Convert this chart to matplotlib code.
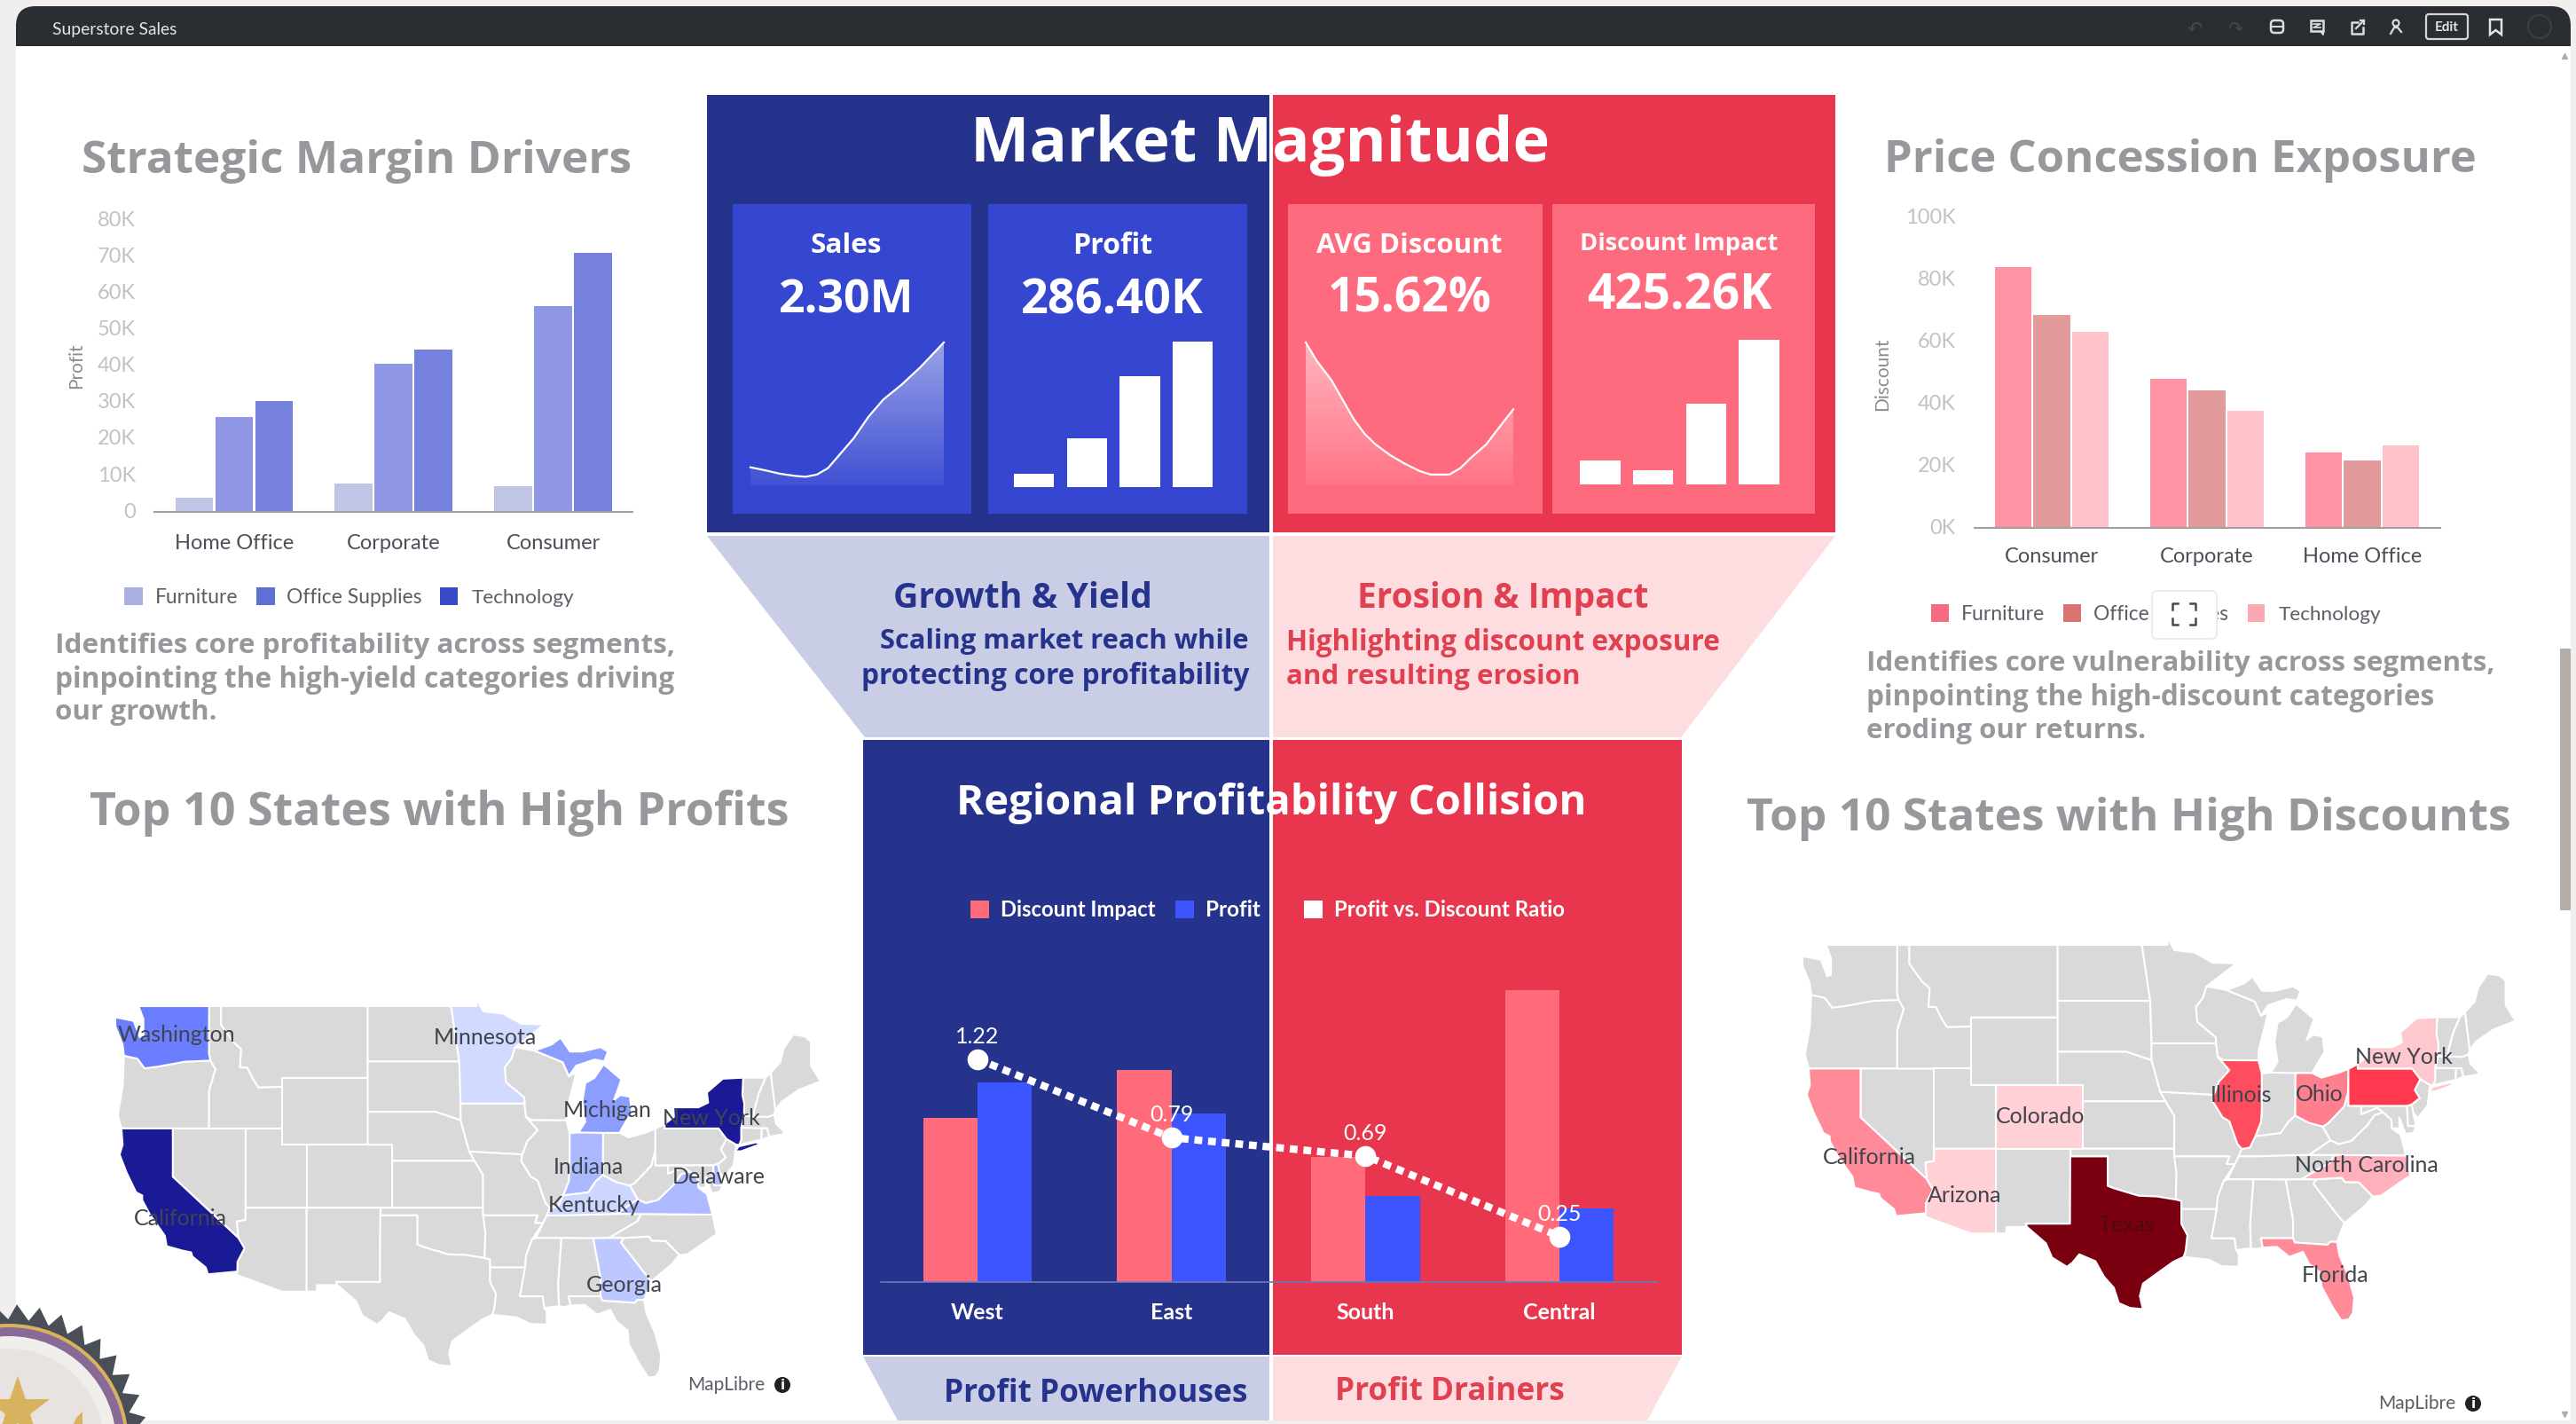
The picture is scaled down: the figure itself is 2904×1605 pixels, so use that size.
import numpy as np
import matplotlib
matplotlib.use('Agg')
import matplotlib.pyplot as plt
from matplotlib.patches import Rectangle, Polygon, Circle, FancyBboxPatch, PathPatch
from matplotlib.path import Path
from matplotlib.transforms import ScaledTranslation

W, H = 2904, 1606
GREY_TXT = '#97989c'
BLUE_DK = '#26338c'
RED_DK = '#e8364e'
HEAD = 'Open Sans'
BODY = 'Lato'

# ---- data ----
seg_left = ['Home Office', 'Corporate', 'Consumer']
furn_profit = [3.9, 7.7, 7.0]
office_profit = [26.0, 40.5, 56.5]
tech_profit = [30.5, 44.5, 71.0]

seg_right = ['Consumer', 'Corporate', 'Home Office']
furn_disc = [84.0, 48.2, 24.3]
office_disc = [68.7, 44.3, 21.7]
tech_disc = [63.1, 37.7, 26.7]

regions = ['West', 'East', 'South', 'Central']
disc_impact = [88.8, 115.0, 68.0, 158.0]
region_profit = [108.0, 91.5, 46.7, 39.7]
ratio = [1.22, 0.79, 0.69, 0.25]

sales_x = [80, 100, 120, 140, 155, 170, 185, 200, 220, 240, 260, 285, 310, 342]
sales_y = [42, 35, 27, 22, 20, 25, 40, 70, 110, 160, 200, 235, 275, 333]
avg_x = [835, 850, 870, 885, 900, 915, 930, 950, 970, 990, 1005, 1030, 1045, 1060, 1080, 1100, 1117]
avg_y = [333, 290, 245, 200, 155, 120, 95, 70, 50, 33, 25, 25, 40, 65, 95, 140, 177]
profit_mini = [30, 114, 258, 338]
impact_mini = [56, 32, 187, 336]

# simplified state outlines, lon / lat
states = {
    'WA': [(-124.7,48.4),(-123.2,48.2),(-122.7,47.3),(-122.4,47.4),(-122.4,48.3),(-122.8,49),(-117.03,49),(-117.04,46.4),(-116.92,45.99),(-119,45.93),(-121.2,45.65),(-122.3,45.55),(-122.9,46.1),(-124,46.27),(-124.1,46.9),(-124.7,47.9)],
    'OR': [(-124,46.27),(-122.9,46.1),(-122.3,45.55),(-121.2,45.65),(-119,45.93),(-116.92,45.99),(-116.5,45.5),(-117.03,44.25),(-117.03,42),(-124.2,42),(-124.5,42.8),(-124.1,44.5)],
    'CA': [(-124.2,42),(-120,42),(-120,39),(-114.63,35),(-114.13,34.3),(-114.7,33.4),(-114.72,32.72),(-117.12,32.53),(-117.3,33),(-118.4,33.75),(-118.5,34.03),(-119.2,34.15),(-120.5,34.45),(-120.65,35.15),(-121.9,36.6),(-122.5,37.5),(-122.5,37.8),(-123,38),(-123.8,39.3),(-124.35,40.4),(-124.1,41)],
    'NV': [(-120,42),(-114.04,42),(-114.05,36.2),(-114.75,36.1),(-114.63,35),(-120,39)],
    'ID': [(-117.03,49),(-116.05,49),(-116.05,48),(-115,47),(-114.4,46.65),(-114.5,45.6),(-113.9,45.6),(-113.45,44.95),(-113,44.45),(-111.05,44.48),(-111.05,42),(-117.03,42),(-117.03,44.25),(-116.5,45.5),(-116.92,45.99),(-117.04,46.4)],
    'MT': [(-116.05,49),(-104.05,49),(-104.05,45),(-111.05,45),(-111.05,44.48),(-113,44.45),(-113.45,44.95),(-113.9,45.6),(-114.5,45.6),(-114.4,46.65),(-115,47),(-116.05,48)],
    'WY': [(-111.05,45),(-104.05,45),(-104.05,41),(-111.05,41)],
    'UT': [(-114.04,42),(-111.05,42),(-111.05,41),(-109.05,41),(-109.05,37),(-114.05,37)],
    'CO': [(-109.05,41),(-102.05,41),(-102.05,37),(-109.05,37)],
    'AZ': [(-114.05,37),(-109.05,37),(-109.05,31.33),(-111.07,31.33),(-114.81,32.5),(-114.72,32.72),(-114.7,33.4),(-114.13,34.3),(-114.63,35),(-114.75,36.1),(-114.05,36.2)],
    'NM': [(-109.05,37),(-103,37),(-103.05,32),(-106.62,32),(-106.53,31.78),(-108.2,31.78),(-108.2,31.33),(-109.05,31.33)],
    'ND': [(-104.05,49),(-97.23,49),(-96.56,45.94),(-104.05,45.94)],
    'SD': [(-104.05,45.94),(-96.56,45.94),(-96.45,43.5),(-96.45,42.5),(-98.5,43),(-104.05,43)],
    'NE': [(-104.05,43),(-98.5,43),(-96.45,42.5),(-95.9,41),(-95.31,40),(-102.05,40),(-102.05,41),(-104.05,41)],
    'KS': [(-102.05,40),(-95.31,40),(-94.61,39.1),(-94.62,37),(-102.05,37)],
    'OK': [(-103,37),(-94.62,37),(-94.43,35.4),(-94.48,33.64),(-96,33.85),(-97.5,33.9),(-99.5,34.4),(-100,34.56),(-100,36.5),(-103,36.5)],
    'TX': [(-106.62,32),(-103.05,32),(-103.03,36.5),(-100,36.5),(-100,34.56),(-99.5,34.4),(-97.5,33.9),(-96,33.85),(-94.48,33.64),(-94.04,33.55),(-94.04,31.99),(-93.55,31.2),(-93.7,30.1),(-93.85,29.7),(-94.7,29.35),(-95.9,28.6),(-97.15,27.8),(-97.4,26.9),(-97.15,25.96),(-98.2,26.05),(-99.1,26.4),(-99.5,27.5),(-100.3,28.3),(-101,29.4),(-102.3,29.88),(-102.85,29.3),(-103.3,29),(-104.5,29.65),(-105,30.65),(-106.53,31.78)],
    'MN': [(-97.23,49),(-95.15,49),(-95.15,49.38),(-94.6,48.72),(-93,48.6),(-91.5,48.05),(-89.6,48),(-92,46.75),(-92.3,46.1),(-92.85,45.6),(-92.75,44.75),(-91.25,43.85),(-91.22,43.5),(-96.45,43.5),(-96.56,45.94)],
    'IA': [(-96.45,43.5),(-91.22,43.5),(-91.1,42.7),(-90.15,41.9),(-91,41.2),(-91.4,40.4),(-95.75,40.58),(-95.9,41),(-96.45,42.5)],
    'MO': [(-95.75,40.58),(-91.4,40.4),(-91.5,40),(-90.7,39),(-90.15,38.75),(-89.5,37.3),(-89.15,36.99),(-89.4,36.5),(-89.7,36),(-90.37,36),(-90.15,36.5),(-94.62,36.5),(-94.62,37),(-94.61,39.1),(-95.31,40)],
    'AR': [(-94.62,36.5),(-90.15,36.5),(-90.37,36),(-89.7,36),(-90.6,34.9),(-91.1,33.8),(-91.17,33),(-94.04,33),(-94.04,33.55),(-94.48,33.64),(-94.43,35.4)],
    'LA': [(-94.04,33),(-91.17,33),(-91.6,31),(-89.73,31),(-89.6,30.18),(-89.4,29.9),(-89.4,29),(-90.8,29.05),(-91.8,29.5),(-93.85,29.7),(-93.7,30.1),(-93.55,31.2),(-94.04,31.99)],
    'WI': [(-92,46.75),(-90.4,46.55),(-88.1,45.9),(-87.6,45.1),(-87,45.3),(-87.8,43),(-87.8,42.49),(-90.64,42.5),(-91.1,42.7),(-91.22,43.5),(-91.25,43.85),(-92.75,44.75),(-92.85,45.6),(-92.3,46.1)],
    'IL': [(-90.64,42.5),(-87.8,42.49),(-87.53,41.7),(-87.53,39.35),(-87.6,38.7),(-88.05,37.8),(-88.5,37.07),(-89.15,36.99),(-89.5,37.3),(-90.15,38.75),(-90.7,39),(-91.5,40),(-91.4,40.4),(-91,41.2),(-90.15,41.9),(-91.1,42.7)],
    'IN': [(-87.53,41.7),(-86.8,41.76),(-84.8,41.76),(-84.82,39.1),(-85.4,38.7),(-86,38),(-87,37.9),(-88.05,37.8),(-87.6,38.7),(-87.53,39.35)],
    'MI': [(-86.8,41.76),(-84.8,41.73),(-83.45,41.73),(-83.1,42.2),(-82.45,43),(-82.6,43.9),(-83.4,44),(-83.9,43.7),(-83.3,44.9),(-84.75,45.78),(-85.5,45),(-86.25,44.7),(-86.5,43.6),(-86.25,42.4)],
    'MIU': [(-90.4,46.55),(-88.1,45.9),(-87.6,45.1),(-87,45.7),(-85.5,46.05),(-84.7,45.95),(-84.4,46.5),(-85,46.75),(-86.5,46.5),(-87.5,46.5),(-88.4,47.4),(-87.9,47.47),(-89,46.9)],
    'OH': [(-84.8,41.73),(-83.45,41.73),(-82.7,41.45),(-81.3,41.75),(-80.52,41.98),(-80.52,40.64),(-80.85,39.7),(-81.7,39),(-82.2,38.6),(-82.6,38.42),(-83.7,38.65),(-84.82,39.1)],
    'KY': [(-89.4,36.5),(-88.05,36.5),(-83.68,36.6),(-81.97,37.54),(-82.6,38.42),(-83.7,38.65),(-84.82,39.1),(-85.4,38.7),(-86,38),(-87,37.9),(-88.05,37.8),(-88.5,37.07),(-89.15,36.99)],
    'TN': [(-89.7,36),(-89.4,36.5),(-88.05,36.5),(-83.68,36.6),(-81.68,36.59),(-82,36.1),(-84.32,35),(-85.6,34.98),(-88.2,35),(-90.3,35)],
    'MS': [(-90.3,35),(-88.2,35),(-88.47,31.9),(-88.4,30.3),(-89.6,30.18),(-89.73,31),(-91.6,31),(-91.17,33),(-91.1,33.8),(-90.6,34.9)],
    'AL': [(-88.2,35),(-85.6,34.98),(-85,32.3),(-85,31),(-87.6,31),(-87.45,30.35),(-88,30.25),(-88.4,30.3),(-88.47,31.9)],
    'GA': [(-85.6,34.98),(-84.32,35),(-83.1,35),(-83.35,34.7),(-81.4,32.6),(-80.85,32.05),(-81.45,30.75),(-82,30.75),(-82.2,30.55),(-84.85,30.7),(-85,31),(-85,32.3)],
    'FL': [(-87.6,31),(-85,31),(-84.85,30.7),(-82.2,30.55),(-82,30.75),(-81.45,30.75),(-81.25,29.8),(-80.55,28.4),(-80.05,26.8),(-80.15,25.7),(-80.5,25.2),(-81.1,25.15),(-81.8,26.1),(-82.7,27.6),(-82.8,28.6),(-83.7,29.2),(-84.2,30.05),(-85.3,29.7),(-86.3,30.4),(-87.45,30.35)],
    'SC': [(-83.1,35),(-81.05,35.1),(-80.8,34.82),(-79.67,34.8),(-78.55,33.85),(-79.2,33.2),(-80.85,32.05),(-81.4,32.6),(-83.35,34.7)],
    'NC': [(-84.32,35),(-83.1,35),(-81.05,35.1),(-80.8,34.82),(-79.67,34.8),(-78.55,33.85),(-77.9,33.9),(-76.5,34.7),(-75.5,35.25),(-75.85,36.55),(-81.68,36.59),(-82,36.1)],
    'VA': [(-83.68,36.6),(-81.68,36.59),(-75.85,36.55),(-76,37),(-76.3,37.9),(-77,38.3),(-77.05,38.85),(-77.7,39.32),(-78.4,39.15),(-79,38.5),(-80.3,37.5),(-81.3,37.3),(-81.97,37.54)],
    'WV': [(-81.97,37.54),(-81.3,37.3),(-80.3,37.5),(-79,38.5),(-78.4,39.15),(-77.7,39.32),(-78.2,39.6),(-79.48,39.2),(-79.48,39.72),(-80.52,39.72),(-80.52,40.64),(-80.85,39.7),(-81.7,39),(-82.2,38.6),(-82.6,38.42)],
    'PA': [(-80.52,41.98),(-79.76,42.27),(-79.76,42),(-75.35,42),(-74.7,41.36),(-75.15,40.7),(-74.75,40.2),(-75.4,39.8),(-75.79,39.72),(-80.52,39.72)],
    'NY': [(-79.76,42.27),(-79,42.7),(-79.05,43.27),(-77,43.27),(-76.2,43.55),(-76.3,44.15),(-75,44.95),(-73.34,45.01),(-73.4,44),(-73.25,43.5),(-73.27,42.75),(-73.5,42.05),(-73.5,41.3),(-73.65,41),(-73.9,41),(-74.7,41.36),(-75.35,42),(-79.76,42)],
    'NYL': [(-74,40.6),(-73.7,40.9),(-72.3,41.15),(-71.9,41.05),(-73.5,40.6)],
    'NJ': [(-74.7,41.36),(-73.9,41),(-74,40.5),(-74.1,39.75),(-74.9,38.95),(-75.5,39.5),(-75.4,39.8),(-74.75,40.2),(-75.15,40.7)],
    'DE': [(-75.79,39.72),(-75.4,39.8),(-75.05,38.45),(-75.7,38.45)],
    'MD': [(-79.48,39.72),(-75.79,39.72),(-75.7,38.45),(-75.05,38.45),(-75.25,38.03),(-75.9,37.95),(-76.4,39),(-76.4,38.3),(-77,38.3),(-77.05,38.85),(-77.7,39.32),(-78.2,39.6),(-79.48,39.2)],
    'CT': [(-73.5,42.05),(-71.8,42.02),(-71.85,41.32),(-73.65,41),(-73.5,41.3)],
    'RI': [(-71.8,42.02),(-71.38,42.02),(-71.2,41.5),(-71.85,41.32)],
    'MA': [(-73.5,42.05),(-73.27,42.75),(-71.3,42.7),(-70.8,42.85),(-70.65,42.3),(-70,41.8),(-70,41.65),(-71.2,41.5),(-71.38,42.02),(-71.8,42.02)],
    'VT': [(-73.34,45.01),(-71.5,45.01),(-72.05,44.1),(-72.45,43),(-72.46,42.73),(-73.27,42.75),(-73.25,43.5),(-73.4,44)],
    'NH': [(-71.5,45.01),(-71.08,45.3),(-70.7,43.1),(-70.8,42.85),(-71.3,42.7),(-72.46,42.73),(-72.45,43),(-72.05,44.1)],
    'ME': [(-71.08,45.3),(-70.3,45.9),(-70,46.7),(-69.25,47.45),(-68.3,47.35),(-67.8,47.07),(-67.8,45.7),(-67,44.8),(-68.8,44.3),(-70.2,43.6),(-70.7,43.1)],
}

profit_states = {'CA': '#1a1a96', 'NY': '#1a1a96', 'NYL': '#1a1a96', 'WA': '#6b7eff', 'MI': '#8b9dff', 'MIU': '#8b9dff',
                 'IN': '#a9b8ff', 'VA': '#aebaff', 'DE': '#aebaff', 'GA': '#bcc8ff', 'KY': '#cdd6ff', 'MN': '#d2daff'}
discount_states = {'TX': '#7a0010', 'PA': '#ff3a50', 'IL': '#ff4d60', 'OH': '#ff7f8e', 'CA': '#ff8a98', 'FL': '#ff8a98',
                   'NC': '#ffb0ba', 'NY': '#ffc8cf', 'NYL': '#ffc8cf', 'CO': '#ffd0d6', 'AZ': '#ffd0d6'}

profit_labels = [('Washington', 199, 1167), ('Minnesota', 547, 1170), ('Michigan', 685, 1252), ('New York', 802, 1261),
                 ('Indiana', 663, 1316), ('Delaware', 810, 1327), ('Kentucky', 670, 1359), ('California', 203, 1374),
                 ('Georgia', 704, 1449)]
discount_labels = [('California', 2107, 1305), ('Arizona', 2215, 1348), ('Colorado', 2300, 1259), ('Texas', 2398, 1381),
                   ('Illinois', 2527, 1235), ('Ohio', 2615, 1234), ('New York', 2710, 1192),
                   ('North Carolina', 2668, 1314), ('Florida', 2633, 1438)]

# ---- canvas in pixel coordinates ----
fig = plt.figure(figsize=(W / 100, H / 100), dpi=100, facecolor='#f0efed')
bg = fig.add_axes([0, 0, 1, 1])
bg.set_xlim(0, W)
bg.set_ylim(H, 0)
bg.axis('off')
# second layer so map labels and the badge sit over the child axes
top = fig.add_axes([0, 0, 1, 1], zorder=5)
top.set_xlim(0, W)
top.set_ylim(H, 0)
top.axis('off')
top.patch.set_alpha(0)
rend = fig.canvas.get_renderer()


def box(x0, y0, x1, y1, color, z=1, ax=bg):
    ax.add_patch(Rectangle((x0, y0), x1 - x0, y1 - y0, fc=color, ec='none', zorder=z))


def T(x, y, s, size=20, color='white', ha='center', weight='bold', family=HEAD, w=None, z=10, ax=bg, **kw):
    t = ax.text(x, y, s, fontsize=size, color=color, ha=ha, va='center', fontweight=weight, family=family, zorder=z, **kw)
    if w is not None:
        # scale the font so the text is as wide as in the picture
        cur = t.get_window_extent(rend).width
        t.set_fontsize(size * w / cur)
    if family == HEAD:
        # Open Sans sits high in its box, push it down to the measured line
        t.set_y(y + 0.13 * t.get_fontsize() * 100 / 72)
    return t


def child(x0, y0, x1, y1):
    ax = fig.add_axes([x0 / W, 1 - y1 / H, (x1 - x0) / W, (y1 - y0) / H])
    ax.patch.set_alpha(0)
    return ax


# page and header
box(18, 30, 2898, 1602, 'white', 0)
bg.add_patch(FancyBboxPatch((18, 8), 2880, 45, boxstyle='round,pad=0,rounding_size=22', fc='#2a2d32', ec='none', zorder=2))
box(18, 30, 2898, 53, '#2a2d32', 2)
T(59, 33, 'Superstore Sales', color='#e4e4e4', weight='normal', family=BODY, w=141, ha='left')
ICON = '#dcdcdc'
for ix in [2474, 2520]:
    T(ix, 32, '↶' if ix == 2474 else '↷', size=15, color='#45484d', weight='normal', family='DejaVu Sans')
bg.add_patch(FancyBboxPatch((2560, 24), 14, 14, boxstyle='round,pad=0,rounding_size=4', fc='none', ec=ICON, lw=1.8, zorder=5))
bg.plot([2560, 2574], [31, 31], color=ICON, lw=1.4, zorder=5)
bg.add_patch(Rectangle((2605, 24), 14, 12, fc='none', ec=ICON, lw=1.8, zorder=5))
bg.plot([2608, 2616, 2608, 2616], [28, 28, 32, 32], color=ICON, lw=1.2, zorder=5)
bg.plot([2616, 2619, 2619], [36, 40, 36], color=ICON, lw=1.4, zorder=5)
bg.plot([2658, 2651, 2651, 2664, 2664], [26, 26, 39, 39, 32], color=ICON, lw=1.8, zorder=5)
bg.plot([2656, 2665], [33, 24], color=ICON, lw=1.6, zorder=5)
bg.plot([2661, 2665, 2665], [24, 24, 28], color=ICON, lw=1.6, zorder=5)
bg.add_patch(Circle((2701, 27), 3.5, fc='none', ec=ICON, lw=1.6, zorder=5))
bg.plot([2695, 2699, 2703, 2707], [39, 32, 32, 37], color=ICON, lw=1.6, zorder=5)
bg.add_patch(FancyBboxPatch((2735, 17), 47, 28, boxstyle='round,pad=0,rounding_size=3', fc='none', ec='#d5d5d5', lw=1.6, zorder=5))
T(2758, 31, 'Edit', size=11, color='#e4e4e4', family=BODY)
bg.add_patch(Polygon([(2807, 23), (2820, 23), (2820, 40), (2813.5, 35), (2807, 40)], fc='none', ec='#e4e4e4', lw=1.8, zorder=5))
bg.add_patch(Circle((2863, 31), 13, fc='none', ec='#3c3f44', lw=1.5, zorder=5))

# scrollbar
box(2886, 732, 2898, 1027, '#b3aeaa', 3)
bg.plot([2891], [64], marker='^', ms=5, color='#b0aca8', zorder=3)
bg.plot([2891], [1595], marker='v', ms=5, color='#b0aca8', zorder=3)

# top funnel panels
bg.add_patch(Polygon([(797, 605), (1431, 605), (1431, 832), (975, 832)], fc='#c9cde5', ec='none', zorder=1))
bg.add_patch(Polygon([(1435, 605), (2069, 605), (1895, 832), (1435, 832)], fc='#fddde0', ec='none', zorder=1))
box(797, 108, 1431, 601, BLUE_DK)
box(1435, 108, 2069, 601, RED_DK)
for x0, x1, c in [(826, 1095, '#3546d0'), (1114, 1406, '#3546d0'), (1452, 1739, '#ff6b7e'), (1750, 2046, '#ff6b7e')]:
    box(x0, 231, x1, 580, c, 2)

T(1420, 155, 'Market Magnitude', w=653)
T(954, 273, 'Sales', w=80)
T(954, 332, '2.30M', w=153)
T(1254, 273, 'Profit', w=90)
T(1254, 332, '286.40K', w=206)
T(1589, 273, 'AVG Discount', w=209)
T(1589, 331, '15.62%', w=185)
T(1893, 271, 'Discount Impact', w=223)
T(1893, 327, '425.26K', w=209)

T(1153, 669, 'Growth & Yield', color=BLUE_DK, w=292)
T(1408, 719, 'Scaling market reach while', color=BLUE_DK, w=416, ha='right')
T(1408, 758, 'protecting core profitability', color=BLUE_DK, w=437, ha='right')
T(1694, 669, 'Erosion & Impact', color='#e0404f', w=329)
T(1450, 720, 'Highlighting discount exposure', color='#e0404f', w=489, ha='left')
T(1450, 759, 'and resulting erosion', color='#e0404f', w=331, ha='left')

# KPI sparklines
grad = np.zeros((256, 2, 4))
grad[..., :3] = 1.0
grad[..., 3] = np.linspace(0.5, 0.06, 256)[:, None]


def spark(rect, xs, ys):
    ax = child(*rect)
    ax.set_xlim(min(xs), max(xs))
    ax.set_ylim(0, max(ys))
    ax.axis('off')
    im = ax.imshow(grad, extent=(min(xs), max(xs), 0, max(ys)), aspect='auto', zorder=1)
    verts = [(xs[0], 0)] + list(zip(xs, ys)) + [(xs[-1], 0), (xs[0], 0)]
    clip = PathPatch(Path(verts), transform=ax.transData, fc='none', ec='none')
    ax.add_patch(clip)
    im.set_clip_path(clip)
    ax.plot(xs, ys, color='white', lw=1.6, zorder=2, clip_on=False)


spark((846, 387, 1064, 548), sales_x, sales_y)
spark((1472, 387, 1706, 548), avg_x, avg_y)


def mini(x0, x1, y1, vals):
    ax = child(x0, y1 - max(vals) / 2.063, x1, y1)
    ax.set_xlim(-0.5, 3.5)
    ax.set_ylim(0, max(vals))
    ax.axis('off')
    ax.bar(range(4), vals, width=0.76, color='white')


mini(1136, 1374.5, 550, profit_mini)
mini(1774, 2013, 547, impact_mini)

# lower funnel and regional panel
bg.add_patch(Polygon([(973, 1530), (1431, 1530), (1431, 1602), (1012, 1602)], fc='#c9cde5', ec='none', zorder=1))
bg.add_patch(Polygon([(1435, 1530), (1896, 1530), (1857, 1602), (1435, 1602)], fc='#fddde0', ec='none', zorder=1))
box(973, 835, 1431, 1528, BLUE_DK)
box(1435, 835, 1896, 1528, RED_DK)
T(1433, 899, 'Regional Profitability Collision', w=710)
T(1235.5, 1566, 'Profit Powerhouses', color=BLUE_DK, w=342)
T(1634, 1564, 'Profit Drainers', color='#e0404f', w=259)

for sx0, sx1, c, tx, s, tw in [(1093.5, 1115, '#ff6b7a', 1128, 'Discount Impact', 175),
                               (1325, 1346, '#3d55ff', 1359, 'Profit', 62),
                               (1469.5, 1491, 'white', 1504, 'Profit vs. Discount Ratio', 260)]:
    box(sx0, 1016, sx1, 1036, c, 3)
    T(tx, 1026, s, w=tw, ha='left', family=BODY)

ax = child(992.5, 1080, 1867.5, 1446)
ax.set_xlim(-0.5, 3.5)
ax.set_ylim(0, 366 / 2.08)
x = np.arange(4)
ax.bar(x - 0.14, disc_impact, width=0.28, color='#ff6b7a', zorder=2)
ax.bar(x + 0.14, region_profit, width=0.28, color='#3d55ff', zorder=2)
ax.set_xticks(x, regions, color='white', fontweight='bold', fontsize=18, family=BODY)
ax.set_yticks([])
ax.tick_params(length=0, pad=16)
for sp in ['top', 'left', 'right']:
    ax.spines[sp].set_visible(False)
ax.spines['bottom'].set_color('#6f78b8')
ax.spines['bottom'].set_linewidth(1.2)
ax2 = ax.twinx()
ax2.patch.set_alpha(0)
ax2.set_ylim(0, 366 / 206)
ax2.axis('off')
ax2.plot(x, ratio, color='white', lw=6, ls=(0, (1.05, 0.8)), zorder=5)
ax2.plot(x, ratio, ls='none', marker='o', ms=16, color='white', zorder=6)
for xi, r in zip(x, ratio):
    ax2.annotate(f'{r:.2f}', (xi, r), xytext=(0, 19), textcoords='offset points', ha='center', va='center',
                 color='white', fontsize=18, family=BODY, zorder=7)

# divider between the two halves
box(1431, 108, 1435, 601, 'white', 4)
box(1431, 835, 1435, 1528, 'white', 4)


def bars3(rect, cats, a, b, c, cols, yticks, ylabs, ylabel, ylab_x, ylab_y, cat_pad):
    ax = child(*rect)
    xs = np.arange(len(cats))
    ax.set_xlim(-0.5, 2.5)
    ax.set_ylim(0, yticks[-1])
    for off, vals, col in zip([-0.25, 0, 0.25], [a, b, c], cols):
        ax.bar(xs + off, vals, width=0.237, color=col)
    ax.set_xticks(xs, cats, color='#4a4f58', fontsize=17, family=BODY)
    ax.set_yticks(yticks, ylabs, color='#c2c2c2', fontsize=17, family=BODY)
    ax.tick_params(axis='x', length=0, pad=cat_pad)
    ax.tick_params(axis='y', length=0, pad=15)
    # value labels sit a little above their gridline in the picture
    shift = ScaledTranslation(0, 2 / 72, fig.dpi_scale_trans)
    for lab in ax.get_yticklabels():
        lab.set_transform(lab.get_transform() + shift)
    for sp in ['top', 'left', 'right']:
        ax.spines[sp].set_visible(False)
    ax.spines['bottom'].set_color('#a0a0a0')
    ax.spines['bottom'].set_linewidth(1.5)
    T(ylab_x, ylab_y, ylabel, size=15, color='#8a8c90', weight='normal', family=BODY, rotation=90)


bars3((174, 249, 713.5, 578), seg_left, furn_profit, office_profit, tech_profit, ['#c0c5e6', '#8f97e4', '#7680dd'],
      [0, 10, 20, 30, 40, 50, 60, 70, 80], ['0', '10K', '20K', '30K', '40K', '50K', '60K', '70K', '80K'],
      'Profit', 86, 412, 17)
bars3((2225.5, 246.5, 2750.5, 596), seg_right, furn_disc, office_disc, tech_disc, ['#ff93a3', '#e29a9a', '#ffc2cb'],
      [0, 20, 40, 60, 80, 100], ['0K', '20K', '40K', '60K', '80K', '100K'],
      'Discount', 2122, 422, 15)

T(402, 175, 'Strategic Margin Drivers', color=GREY_TXT, w=621)
T(2458, 174.5, 'Price Concession Exposure', color=GREY_TXT, w=669)
T(62, 724, 'Identifies core profitability across segments,', color=GREY_TXT, w=698, ha='left')
T(62, 762, 'pinpointing the high-yield categories driving', color=GREY_TXT, w=699, ha='left')
T(62, 799, 'our growth.', color=GREY_TXT, w=183, ha='left')
T(2104, 744, 'Identifies core vulnerability across segments,', color=GREY_TXT, w=707, ha='left')
T(2104, 782, 'pinpointing the high-discount categories', color=GREY_TXT, w=640, ha='left')
T(2104, 820, 'eroding our returns.', color=GREY_TXT, w=315, ha='left')
T(495, 910, 'Top 10 States with High Profits', color=GREY_TXT, w=788)
T(2400, 916, 'Top 10 States with High Discounts', color=GREY_TXT, w=863)

for sx0, sx1, c, tx, s, tw in [(140, 161, '#a9b0e0', 175, 'Furniture', 94),
                               (289, 310, '#5f6fd6', 323, 'Office Supplies', 153),
                               (496, 516, '#3a4bc8', 532, 'Technology', 115)]:
    box(sx0, 663, sx1, 683, c, 3)
    T(tx, 674, s, color='#5a5e66', weight='normal', family=BODY, w=tw, ha='left')
for sx0, sx1, c, tx, s, tw in [(2177, 2197, '#f96a80', 2211, 'Furniture', 95),
                               (2326, 2346, '#d9736e', 2360, 'Office Supplies', 152),
                               (2534, 2553, '#fba8b5', 2569, 'Technology', 115)]:
    box(sx0, 682, sx1, 702, c, 3)
    T(tx, 693, s, color='#5a5e66', weight='normal', family=BODY, w=tw, ha='left')

# fullscreen button floating over the right legend
bg.add_patch(FancyBboxPatch((2426, 667), 73, 54, boxstyle='round,pad=0,rounding_size=6', fc='white', ec='#ececec', lw=1.5, zorder=12))
for cx, cy, dx, dy in [(2449, 681, 1, 1), (2475, 681, -1, 1), (2449, 705, 1, -1), (2475, 705, -1, -1)]:
    bg.plot([cx + 6 * dx, cx, cx], [cy, cy, cy + 7 * dy], color='#444850', lw=1.8, zorder=13)


# maps
def merc(lat):
    return np.degrees(np.log(np.tan(np.radians(45 + np.asarray(lat) / 2))))


def us_map(x_west, y_top, scale, fills, labels, info):
    lon0, lon1, lat0, lat1 = -124.7, -67.0, 25.1, 49.0
    rect = (x_west, y_top, x_west + (lon1 - lon0) * scale, y_top + (merc(lat1) - merc(lat0)) * scale)
    ax = child(*rect)
    ax.set_xlim(lon0, lon1)
    ax.set_ylim(merc(lat0), merc(lat1))
    ax.axis('off')
    for name, pts in states.items():
        xy = np.array(pts)
        ax.add_patch(Polygon(np.column_stack([xy[:, 0], merc(xy[:, 1])]), fc=fills.get(name, '#d9d9d9'), ec='white',
                             lw=1.5, clip_on=False, joinstyle='round', zorder=3 if name in fills else 2))
    for s, lx, ly in labels:
        T(lx, ly, s, size=18, color='#4d0a14' if s == 'Texas' else '#3f444d', weight='normal', family=BODY, z=15, ax=top)
    T(info[0], info[1], 'MapLibre', size=15, color='#5a5e66', weight='normal', family=BODY, ax=top)
    top.add_patch(Circle((info[0] + 63, info[1] + 1), 9, fc='#222', ec='none', zorder=5))
    T(info[0] + 63, info[1] + 1, 'i', size=11, family='DejaVu Sans', z=6, ax=top)


us_map(130, 1135, 13.78, profit_states, profit_labels, (819, 1561))
us_map(2032, 1066, 13.93, discount_states, discount_labels, (2725, 1582))

# badge in the lower left corner
cx_b, cy_b = 10, 1628
step = 2 * np.pi / 38
tips = np.radians(-86.7) + step * np.arange(38)
ang = np.column_stack([tips, tips + step * 0.62]).ravel()
rad = np.tile([157, 140], 38)
top.add_patch(Polygon(np.column_stack([cx_b + rad * np.cos(ang), cy_b + rad * np.sin(ang)]), fc='#4a4e57', ec='none', zorder=20))
top.add_patch(Circle((cx_b, cy_b), 135, fc='#d8b25f', ec='none', zorder=21))
top.add_patch(Circle((cx_b, cy_b), 131, fc='#876a96', ec='none', zorder=22))
top.add_patch(Circle((cx_b, cy_b), 121, fc='#f0eeeb', ec='none', zorder=23))
top.add_patch(Circle((cx_b, cy_b), 107, fc='#e8e3e1', ec='none', zorder=24))
top.plot([20], [1590], marker='*', ms=55, color='#d8b25f', mew=0, zorder=25)
top.add_patch(Polygon([(93, 1592), (86, 1599), (83, 1606), (93, 1606)], fc='#d8b25f', ec='none', zorder=25))

fig.savefig('out.png', dpi=100)
